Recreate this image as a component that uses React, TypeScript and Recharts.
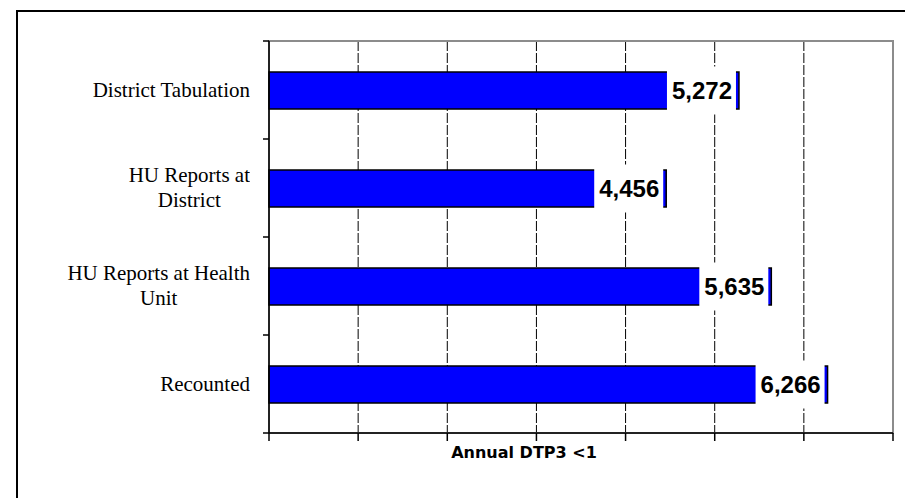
import { BarChart, Bar, XAxis, YAxis, CartesianGrid, LabelList, ReferenceArea } from 'recharts';

// categories top to bottom, line breaks as on the original axis
const categories = [
  'District Tabulation',
  'HU Reports at\nDistrict',
  'HU Reports at Health\nUnit',
  'Recounted',
];
const dtp3Values = [5272, 4456, 5635, 6266];
const xTicks = [0, 1000, 2000, 3000, 4000, 5000, 6000, 7000];
const xTitle = 'Annual DTP3 <1';

const W = 905;
const H = 498;
const MARGIN = { top: 41, right: 12, bottom: 25, left: 0 };
const XAXIS_H = 40;
const YAXIS_W = 269;

const data = categories.map((name, i) => ({ name, value: dtp3Values[i] }));

const bandHalf = (H - MARGIN.top - MARGIN.bottom - XAXIS_H) / categories.length / 2;

const CategoryTick = (props: any) => {
  const { x, y, payload, index } = props;
  const half = payload?.offset > 0 ? payload.offset : bandHalf;
  // axis is at x + 19 (tickSize 6 + tickMargin 13)
  const axisX = x + 19;
  return (
    <g>
      <foreignObject x={x - 250} y={y - 45} width={250} height={90}>
        <div
          style={{
            display: 'flex',
            justifyContent: 'flex-end',
            alignItems: 'center',
            height: '100%',
          }}
        >
          <span
            style={{
              textAlign: 'center',
              whiteSpace: 'pre-line',
              fontFamily: '"Liberation Serif", serif',
              fontSize: 21,
              lineHeight: '25px',
              color: '#000',
            }}
          >
            {payload.value}
          </span>
        </div>
      </foreignObject>
      <line x1={axisX - 6} x2={axisX} y1={y - half} y2={y - half} stroke="#000" strokeWidth={1.5} />
      {index === categories.length - 1 && (
        <line x1={axisX - 6} x2={axisX} y1={y + half} y2={y + half} stroke="#000" strokeWidth={1.5} />
      )}
    </g>
  );
};

const ValueLabel = (props: any) => {
  const { x, y, width, height, value } = props;
  const right = x + width - 3;
  const cy = y + height / 2;
  return (
    <g>
      <rect x={right - 69} y={cy - 24} width={69} height={48} fill="#fff" />
      <text
        x={right - 34}
        y={cy + 8.5}
        textAnchor="middle"
        fontFamily='"Liberation Sans", Arial, sans-serif'
        fontWeight="bold"
        fontSize={24}
        fill="#000"
      >
        {Number(value).toLocaleString('en-US')}
      </text>
    </g>
  );
};

const XTitle = (props: any) => {
  const { viewBox } = props;
  return (
    <text
      x={viewBox.x + viewBox.width / 2 - 57}
      y={viewBox.y + 25}
      textAnchor="middle"
      fontFamily='"DejaVu Sans", sans-serif'
      fontWeight="bold"
      fontSize={16}
      fill="#000"
    >
      {xTitle}
    </text>
  );
};

export default function App() {
  return (
    <div
      style={{
        position: 'fixed',
        left: 0,
        top: 0,
        width: W,
        height: H,
        background: '#fff',
        overflow: 'hidden',
      }}
    >
      <div
        style={{
          position: 'absolute',
          left: 16,
          top: 10,
          width: W,
          height: H,
          borderLeft: '2px solid #000',
          borderTop: '2px solid #000',
        }}
      />
      <div style={{ position: 'absolute', left: 0, top: 0 }}>
        <BarChart width={W} height={H} data={data} layout="vertical" margin={MARGIN}>
          <CartesianGrid horizontal={false} stroke="#000" strokeDasharray="10 2" />
          {/* plot area frame (gray top and right edges) */}
          <ReferenceArea
            x1={xTicks[0]}
            x2={xTicks[xTicks.length - 1]}
            fill="none"
            stroke="#8c8c8c"
            strokeWidth={2}
            ifOverflow="visible"
          />
          <XAxis
            type="number"
            domain={[0, 7000]}
            ticks={xTicks}
            height={XAXIS_H}
            tickFormatter={() => ''}
            tickSize={8}
            axisLine={{ stroke: '#000', strokeWidth: 1.5 }}
            tickLine={{ stroke: '#000', strokeWidth: 1.5 }}
            label={<XTitle />}
          />
          <YAxis
            type="category"
            dataKey="name"
            width={YAXIS_W}
            tickSize={6}
            tickMargin={13}
            tickLine={false}
            axisLine={{ stroke: '#000', strokeWidth: 1.5 }}
            tick={<CategoryTick />}
            interval={0}
          />
          <Bar
            dataKey="value"
            fill="#0000ff"
            stroke="#000"
            strokeWidth={1.5}
            barSize={37}
            isAnimationActive={false}
          >
            <LabelList dataKey="value" content={<ValueLabel />} />
          </Bar>
        </BarChart>
      </div>
    </div>
  );
}
